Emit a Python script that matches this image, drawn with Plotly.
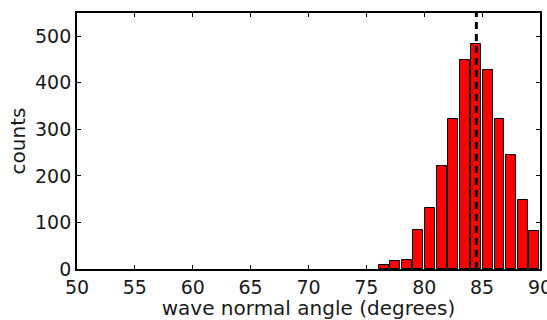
import plotly.graph_objects as go

# Histogram of wave normal angles: 1-degree bins, centred on the half degree
bin_centers = [76.5, 77.5, 78.5, 79.5, 80.5, 81.5, 82.5, 83.5, 84.5, 85.5, 86.5, 87.5, 88.5, 89.5]
counts = [8, 18, 20, 84, 132, 222, 322, 449, 483, 427, 322, 244, 149, 81]

# Reference angle drawn as a dashed vertical line
marker_angle = 84.5

x_ticks = [50, 55, 60, 65, 70, 75, 80, 85, 90]
y_ticks = [0, 100, 200, 300, 400, 500]
x_range = [50, 90]
y_range = [0, 550]

font_family = "DejaVu Sans"
text_color = "#1a1a1a"

fig = go.Figure()

fig.add_trace(go.Bar(
    x=bin_centers,
    y=counts,
    width=0.86,
    marker=dict(color="#ff0000", line=dict(color="black", width=1)),
    showlegend=False,
))

fig.add_trace(go.Scatter(
    x=[marker_angle, marker_angle],
    y=y_range,
    mode="lines",
    line=dict(color="black", width=3, dash="7px,5px"),
    showlegend=False,
    cliponaxis=True,
))

axis_common = dict(
    showgrid=False,
    zeroline=False,
    showline=True,
    linecolor="black",
    linewidth=1.8,
    mirror="allticks",
    ticks="inside",
    ticklen=4,
    tickwidth=1,
    tickcolor="black",
    ticklabeloverflow="allow",
    tickfont=dict(family=font_family, size=19, color=text_color),
)

fig.update_xaxes(
    range=x_range,
    tickvals=x_ticks,
    ticktext=[str(v) for v in x_ticks],
    title=dict(text="wave normal angle (degrees)",
               font=dict(family=font_family, size=20, color=text_color),
               standoff=2),
    **axis_common,
)
fig.update_yaxes(
    range=y_range,
    tickvals=y_ticks,
    ticktext=[str(v) for v in y_ticks],
    title=dict(text="counts",
               font=dict(family=font_family, size=20, color=text_color),
               standoff=4),
    **axis_common,
)

fig.update_layout(
    width=547,
    height=320,
    margin=dict(l=77, r=7, t=13, b=51, autoexpand=False),
    plot_bgcolor="white",
    paper_bgcolor="white",
    bargap=0,
)

fig.write_html("out.html")
